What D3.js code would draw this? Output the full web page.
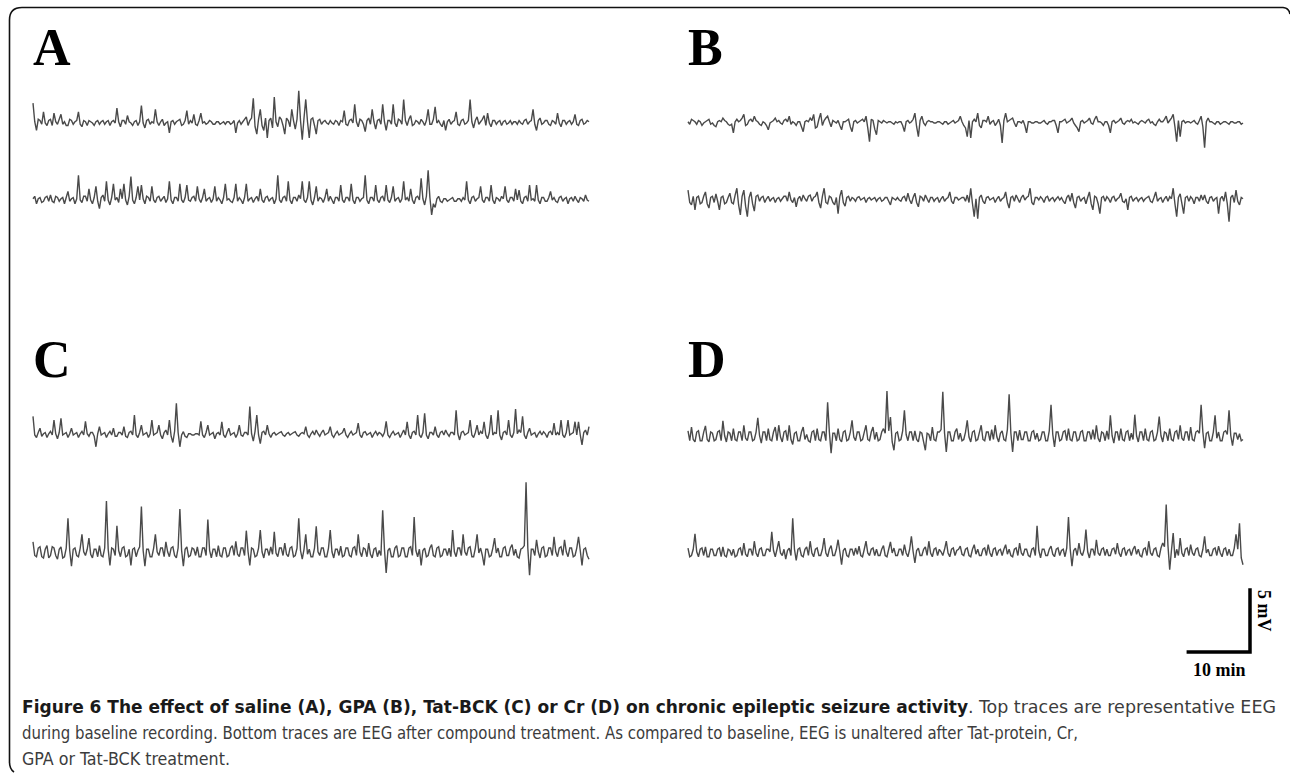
<!doctype html>
<html lang="en">
<head>
<meta charset="utf-8">
<title>Figure 6 EEG traces</title>
<script src="https://cdn.jsdelivr.net/npm/d3@7"></script>
<style>
  body { margin: 0; background: #fff; }
</style>
</head>
<body>
<script>
// EEG samples in mV, 319 samples spread over 90 min
var saline_base = [
  1.6, 0.1, -0.6, 0.3, 0.2, -0.1, 0.9, 0, -0.2, 0.2, 0.3, -0.2, 0.8, 0.1, -0.1, 0.3, 0.7, -0.1, 0.1, -0.2,
  -0.2, 0.3, 0.2, -0.1, 0.1, 0.2, 0.9, -0.1, -0.3, 0.2, 0.1, -0.2, 0.2, 0.1, 0, -0.2, 0.1, 0.2, -0.1, 0.1,
  0.2, -0.1, 0.1, 0.2, -0.2, 0.1, 0.2, 0, 1.2, 0.1, -0.3, 0.2, 0.2, -0.1, 0.6, 0.1, 0, -0.2, 0.1, 0.2,
  -0.2, 0.1, 1.4, 0, -0.4, 0.2, 0.3, -0.1, 0.1, 0, 1.1, 0.1, -0.2, 0.1, 0.3, -0.2, 0, 0.1, -0.8, 0.1,
  0.2, -0.1, 0.1, 0.2, 0.3, -0.2, -0.1, 0.2, 1.0, -0.1, 0.2, 0, 0.7, -0.1, -0.2, 0.2, 0.8, 0, 0.1, -0.1,
  0, 0.2, 0.1, -0.1, -0.1, 0.1, 0.1, -0.1, 0, 0.1, -0.1, 0.1, 0.1, -0.1, 0, 0.2, -0.8, 0, 0.2, -0.1,
  0.1, 0.3, 0.5, -0.2, 0.2, 0.4, 2.0, -0.3, -0.9, 0.3, 1.1, -0.2, -0.6, 0.4, -1.2, 0.2, 0.4, -0.4, 2.1, 0.1,
  -0.3, 0.5, 0.3, -0.2, -0.9, 0.4, 0.2, -0.3, 1.1, 0.2, -0.5, 0.3, 2.6, 0.2, -1.35, 0.4, 1.9, 0.1, -1.2, 0.3,
  0.4, -0.2, -0.9, 0.2, 0.3, -0.1, 0.1, 0.2, 0, -0.1, 0.2, 0, -0.1, 0.2, 0.1, -0.2, 0.2, 0.1, 1.0, -0.1,
  -0.2, 0.2, 0.3, 0, 1.5, 0.1, -0.3, 0.3, 0.2, -0.1, -0.7, 0.2, 0.4, -0.1, 1.1, 0.1, -0.5, 0.2, 0.3, -0.1,
  1.5, 0.1, -0.6, 0.2, 0.2, -0.1, 1.5, 0, -0.3, 0.3, 0.2, -0.1, 1.9, 0.2, -0.2, 0.3, 0.6, -0.2, -0.1, 0.2,
  0.1, -0.1, 0.3, 0.1, -0.2, 0.2, 1.1, -0.1, -0.1, 0.3, 1.3, 0, 0.2, -0.1, -0.3, 0.2, -0.6, 0.1, 0.3, -0.1,
  0.1, 0.2, 0.9, -0.1, -0.2, 0.2, 0.3, -0.1, 0, 0.2, 1.9, 0.1, -0.4, 0.2, 0.5, -0.1, 0.1, 0.3, 0.6, -0.2,
  0.8, 0, -0.3, 0.2, 0.2, -0.1, 0.1, 0.2, -0.2, 0.1, 0.2, -0.1, 0, 0.2, -0.1, 0.1, 0.1, -0.1, 0.2, 0,
  -0.1, 0.2, 0.3, -0.1, 0.1, 0.2, 1.1, -0.1, -0.6, 0.2, 0.4, -0.1, 0, 0.2, 0.2, -0.1, -0.2, 0.2, 0.1, -0.1,
  0.8, 0, -0.3, 0.2, 0.2, -0.1, 0.1, 0.2, -0.1, 0.1, 0.7, -0.1, -0.2, 0.2, 0.3, -0.1, 0, 0.2, 0.1
];
var saline_after = [
  0.1, 0.3, -0.3, 0.1, 0.2, -0.2, -0.1, 0.2, 0.3, -0.1, 0.4, -0.1, -0.2, 0.3, 0.2, -0.1, 0.1, 0.2, -0.3, 0.2,
  0.7, -0.1, 0.1, 0.2, -0.3, 0.1, 2.0, 0, -0.2, 0.3, 0.3, -0.1, 0.9, 0, -0.3, 0.2, 1.1, -0.1, -0.7, 0.2,
  0.4, -0.1, 1.5, 0, -0.4, 0.2, 1.3, 0, 0.2, -0.2, 0.9, 0.1, 1.3, 0, -0.4, 0.3, 1.9, 0, -0.3, 0.2,
  1.1, 0, 1.2, 0.1, -0.3, 0.3, 0.2, -0.1, 1.1, 0, -0.2, 0.2, 0.3, -0.1, 0.1, 0.3, -0.2, 0.1, 1.5, 0,
  -0.3, 0.2, 0.2, -0.1, 1.3, 0, -0.2, 0.2, 1.2, 0, -0.1, 0.2, 0.3, -0.1, 1.1, 0.1, -0.2, 0.2, 0.9, -0.1,
  0.1, 0.2, -0.2, 0.1, 1.1, -0.1, 0.2, 0, -0.3, 0.2, 1.3, 0, 0.1, -0.1, -0.2, 0.2, 1.3, -0.1, 0.2, 0,
  -0.3, 0.2, 1.3, -0.1, 0.1, 0.2, -0.2, 0.1, 0.3, -0.1, 0.9, 0, -0.2, 0.2, 0.3, -0.1, 0.1, 0.2, -0.3, 0.1,
  2.0, 0, -0.2, 0.2, 0.3, -0.1, 1.5, 0, -0.3, 0.2, 0.2, -0.1, 0.4, 0.1, 1.5, 0, -0.2, 0.2, 1.5, 0,
  -0.4, 0.2, 1.1, -0.1, 0.2, 0.1, -0.2, 0.2, 0.9, -0.1, 0.3, 0, -0.3, 0.2, 0.2, -0.1, 1.2, 0, -0.2, 0.2,
  0.2, -0.1, 1.3, 0, -0.3, 0.2, 0.2, -0.1, 0.1, 0.2, 2.0, 0, -0.3, 0.2, 0.2, -0.1, 1.2, 0, -0.2, 0.2,
  0.3, -0.1, 1.2, 0, -0.2, 0.2, 1.1, -0.1, 0.1, 0.2, -0.2, 0.1, 1.5, 0, 0.2, -0.1, 0.9, 0, -0.3, 0.2,
  0.3, 0, 1.75, 0.1, -0.4, 0.3, 2.4, 0.2, -1.2, -0.3, -0.6, 0.1, 0.3, -0.1, -0.2, 0.1, 0.1, -0.1, 0, 0.1,
  0.2, -0.1, -0.1, 0.1, 0.1, -0.1, 0.2, 0, 1.5, 0, -0.3, 0.2, 0.3, -0.1, 0.1, 0.2, 1.1, 0, -0.2, 0.2,
  0.2, -0.1, 1.2, 0, -0.3, 0.2, 0.1, -0.1, 0.3, 0.1, 1.1, 0, -0.2, 0.2, 0.2, -0.1, 0.9, 0, 0.8, -0.1,
  -0.3, 0.2, 0.3, -0.1, 1.2, 0, 0.1, -0.1, 1.2, 0, -0.3, 0.2, 0.2, -0.1, -0.1, 0.2, 0.7, 0, 0.2, -0.1,
  -0.2, 0.2, 0.3, -0.1, 0.1, 0.2, -0.3, 0.1, 0.2, -0.1, 0.3, 0, -0.2, 0.2, 0.1, -0.1, 0.4, 0, -0.1
];
var gpa_base = [
  0.1, -0.1, 0.3, 0.2, 0.1, -0.1, 0.2, 0.1, -0.2, 0, 0.1, 0.2, 0.3, -0.1, 0, -0.2, -0.3, 0.1, 0.2, 0.1,
  0.4, 0.2, 0.1, -0.1, -0.2, -0.1, -0.8, 0.1, 0.3, 0.1, 0.2, 0.4, 0.7, -0.2, -0.1, 0.2, 0.3, 0.1, 0.55, 0.2,
  0.1, -0.1, -0.2, 0.1, 0, -0.2, -0.55, 0, 0.1, 0.2, 0.4, 0.1, 0.2, 0, -0.1, 0.2, 0.3, 0.1, 0.55, -0.1,
  0.1, 0, -0.2, 0.1, 0.1, -0.3, -0.7, 0.1, 0.2, 0.1, 0.4, 0.2, 0.7, -0.4, -0.3, 0.3, 0.8, -0.2, 0.2, 0.4,
  0.55, 0.1, -0.3, 0.2, 0.1, 0, 0.2, -0.2, -0.55, 0.1, 0.1, 0.2, 0.3, -0.3, -0.7, 0.1, 0.2, 0, 0.1, 0.2,
  0.3, 0.1, 0.55, -0.4, -1.5, 0.3, 0.2, -0.5, -0.95, 0.2, 0.1, 0, 0.2, 0.1, 0, 0.1, 0.1, 0, -0.1, 0.1,
  0, 0.1, 0.1, -0.2, -0.7, 0.1, 0.2, 0, 0.1, 0.3, 0.8, -0.3, -1.1, 0.2, 0.55, 0, -0.2, 0.1, 0.2, 0.1,
  0.1, 0, 0, 0.1, 0.1, 0, -0.1, 0.1, 0.1, -0.1, 0, 0.1, 0.2, 0, 0.1, 0.2, 0.55, 0.1, -0.2, -0.4,
  -1.1, 0.2, -1.2, 0.1, 0.3, 0.1, 0.8, -0.2, -0.4, 0.2, 0.2, 0.1, 0.55, -0.1, 0.1, 0.2, -0.2, 0, 0.3, -0.2,
  -1.6, 0.2, 0.8, 0.1, 0.2, 0.3, 0.4, 0, -0.3, 0.1, 0.1, 0, 0.2, -0.2, -0.8, 0.1, 0.1, 0, 0, 0.1,
  0.1, 0, 0, 0.1, 0.2, 0, -0.1, 0.1, 0.1, 0.2, 0.2, -0.2, -0.8, 0.1, 0.1, 0.2, 0.3, 0, 0.1, 0.2,
  0.4, 0, -0.2, -0.4, -0.7, 0.1, 0.2, 0, 0.1, 0.2, 0.4, 0, -0.1, 0.3, 0.55, 0.1, 0.1, 0, -0.2, 0.1,
  0.1, -0.2, -0.8, 0.1, 0.2, 0, 0.1, 0.2, 0.4, 0, -0.1, 0.1, 0.2, 0.1, 0.3, 0, 0.1, 0, -0.1, 0.1,
  0.2, 0.1, 0, 0.2, 0.3, 0, 0.1, -0.1, -0.2, 0.1, 0.3, 0.1, 0.1, 0.3, 0.55, 0, 0.2, 0.4, 0.7, -0.3,
  -1.5, 0.2, -1.1, 0.1, 0.2, 0, 0.1, 0.1, 0, 0.1, 0.2, 0, -0.1, 0.2, 0.55, -0.3, -2.0, 0.1, 0.4, 0.1,
  0.1, 0, -0.1, 0.1, 0.1, -0.1, 0, 0.1, 0.1, 0, -0.1, 0.1, 0.1, 0, 0, 0.1, 0.1, -0.1, 0
];
var gpa_after = [
  0.8, -0.2, -0.4, 0.3, -0.8, 0.2, 0.3, -0.3, -0.2, 0.3, 0.65, -0.3, -0.65, 0.2, 0.3, -0.2, 0.5, -0.1, -0.8, 0.2,
  0.3, -0.3, -0.2, 0.2, 0.55, -0.2, -0.3, 0.4, 0.95, -0.4, -1.2, 0.3, 0.8, -0.5, -1.35, 0.2, 0.65, -0.3, -0.9, 0.3,
  0.4, -0.1, 0.2, 0.3, -0.2, 0.1, 0.3, -0.1, 0.1, 0.2, -0.2, 0.1, 0.2, -0.1, 0.1, 0.3, 0.3, -0.1, 0.65, 0,
  -0.2, 0.2, -0.55, 0.1, 0.3, -0.1, 0.4, 0.1, -0.1, 0.3, 0.4, -0.1, 0.2, 0.3, 0.65, -0.2, -0.65, 0.3, 0.95, -0.2,
  -0.3, 0.3, 0.2, -0.2, -0.4, 0.2, -1.1, 0.3, 0.8, -0.2, -0.5, 0.2, 0.3, -0.1, 0.2, 0.1, -0.1, 0.2, 0.27, 0,
  0.1, 0.2, -0.2, 0.1, 0.2, 0, 0.1, 0.2, -0.1, 0.1, 0.2, -0.1, 0, 0.2, 0.2, -0.1, -0.4, 0.2, 0.1, 0,
  0.2, 0, -0.1, 0.2, 0.3, -0.1, 0.55, 0, -0.3, 0.2, 0.55, -0.2, -0.55, 0.3, 0.2, -0.1, 0.4, 0.1, -0.2, 0.2,
  0.2, -0.1, 0.1, 0.2, -0.2, 0.1, 0.3, -0.1, 0.1, 0.2, 0.65, -0.1, -0.3, 0.2, 0.2, 0, 0.1, 0.2, 0.2, -0.1,
  0.4, -0.2, 0.95, -0.3, -1.35, 0.1, -1.5, 0.2, 0.4, -0.1, -0.3, 0.2, 0.27, 0, 0.1, 0.2, -0.2, 0.1, 0.3, -0.1,
  0.1, 0.2, 0.65, -0.2, -0.65, 0.2, 0.3, -0.1, 0.4, 0.1, -0.2, 0.2, 0.4, 0, 0.2, 0.3, 0.95, -0.2, -0.4, 0.2,
  0.2, 0, 0.27, 0.1, -0.2, 0.2, 0.3, -0.1, 0.1, 0.2, -0.1, 0.1, 0.27, 0, 0.2, -0.1, -0.3, 0.2, 0.4, -0.1,
  0.55, -0.2, -0.65, 0.2, 0.3, -0.1, 0.1, 0.2, -0.3, 0.2, 0.65, -0.3, -0.8, 0.3, 0.2, -0.3, -1.1, 0.2, 0.3, -0.1,
  0.27, 0.1, -0.2, 0.2, 0.3, -0.1, 0.1, 0.2, 0.55, -0.1, -0.2, 0.1, -0.8, 0.2, 0.3, -0.1, 0.1, 0.2, -0.1, 0.1,
  0.2, -0.1, 0.1, 0.2, 0.3, -0.1, -0.2, 0.2, 0.65, -0.1, 0.1, 0.2, -0.2, 0.1, 0.3, -0.1, 0.27, 0.1, 0.95, -0.3,
  -1.35, 0.2, 0.5, -0.3, -1.1, 0.2, 0.3, -0.1, 0.27, 0.1, -0.3, 0.2, 0.2, -0.1, 0.4, 0, 0.4, -0.1, -0.3, 0.2,
  0.27, -0.1, 0.1, 0.2, -1.1, 0.1, 0.3, -0.1, 0.65, -0.3, -1.75, 0.2, 0.4, -0.2, 0.8, -0.1, -0.4, 0.2, 0.1
];
var tatbck_base = [
  1.5, 0, -0.2, 0.2, 0.55, -0.1, 0.1, 0.2, -0.2, 0.1, 0.3, 0, 1.2, 0.1, -0.3, 0.2, 1.35, 0, 0.1, 0.2,
  -0.2, 0.1, 0.55, 0, 0.1, 0.2, -0.2, 0.1, 0.3, 0, 1.1, 0.1, -0.1, 0.2, 0.2, -0.1, -0.95, 0.1, 0.67, 0,
  0.1, 0.2, -0.2, 0.1, 0.3, 0, 0.55, -0.1, -0.1, 0.2, 0.2, 0, 0.67, -0.1, -0.2, 0.2, 0.3, 0, 1.6, 0,
  -0.2, 0.2, 0.8, 0, 0.1, 0.2, -0.2, 0.1, 1.2, 0, 0.1, 0.2, 0.8, 0, -0.3, 0.2, 0.4, 0, 1.2, -0.1,
  -0.6, 0.3, 2.55, 0.2, -0.95, 0, 0.27, -0.1, -0.2, 0.1, 0.1, 0, 0, 0.1, 0.1, 0, 1.1, 0, -0.2, 0.2,
  0.8, 0, 0.1, 0.2, -0.3, 0.1, 0.2, 0, 1.07, 0, -0.2, 0.2, 0.55, 0, 0.1, 0.2, -0.2, 0.1, 0.8, 0,
  -0.1, 0.2, 0.2, 0, 2.3, 0.1, -0.5, 0.3, 1.6, 0, -0.7, 0.2, 0.3, 0, 0.8, 0.1, -0.2, 0.1, 0.2, 0,
  0.1, 0.2, 0.27, 0, -0.1, 0.1, 0.2, 0, 0.1, 0.2, 0.27, 0, -0.1, 0.1, 0.2, 0.1, 0.67, 0, -0.2, 0.1,
  0.3, 0, 0.4, 0.1, -0.1, 0.2, 0.4, 0, 0.1, 0.2, 0.67, 0, -0.2, 0.1, 0.3, 0, 0.1, 0.2, 0.55, 0,
  -0.2, 0.1, 0.3, 0, 0.1, 0.2, 0.95, 0, -0.2, 0.2, 0.27, 0, 0.1, 0.2, -0.2, 0.1, 0.3, 0, 0.2, 0.1,
  -0.1, 0.2, 1.1, 0, -0.2, 0.1, 0.3, 0, 0.1, 0.2, -0.2, 0.1, 0.4, 0, 1.07, 0, -0.3, 0.2, 0.3, 0,
  1.6, 0, -0.2, 0.2, 1.75, 0, -0.3, 0.2, 0.2, 0, 0.67, 0, -0.2, 0.2, 0.3, 0, 0.4, 0.1, -0.1, 0.2,
  0.2, 0, 2.0, 0.1, -0.4, 0.2, 0.3, 0, 0.1, 0.2, 1.2, 0, -0.2, 0.2, 0.8, 0, 0.3, 0.1, 1.07, 0,
  -0.3, 0.2, 1.6, 0, 0.2, 0.1, 2.0, 0, -0.4, 0.2, 0.3, 0, 1.2, 0, -0.2, 0.2, 2.1, 0.1, 0.4, 0.2,
  1.5, 0, -0.3, 0.2, 0.55, 0, 0.1, 0.2, -0.2, 0.1, 0.3, 0, 0.27, 0.1, -0.2, 0.2, 0.3, 0, 0.95, 0,
  0.2, 0, 1.2, 0, -0.2, 0.2, 1.2, 0, 0.1, 0.2, 1.07, 0, 1.07, 0, -0.8, 0.2, 0.4, 0, 0.67
];
var tatbck_after = [
  0.9, -0.2, -0.3, 0.4, 0.5, -0.3, -0.4, 0.3, 0.6, -0.4, -0.2, 0.5, 0.4, -0.2, -0.5, 0.3, 0.5, -0.4, -0.3, 0.4,
  2.8, 0.2, -1.07, 0.3, 0.4, -0.2, -0.3, 0.4, 1.5, 0.1, -0.2, 0.3, 1.2, -0.1, -0.4, 0.3, 0.3, -0.3, 0.6, -0.2,
  -0.3, 0.4, 4.2, 0.3, -1.0, 0.4, 0.3, -0.2, 2.2, 0.2, -0.3, 0.4, 0.5, -0.3, -0.2, 0.3, -1.0, 0.3, 0.4, -0.3,
  0.2, 0.5, 3.75, 0.2, -1.07, 0.3, 0.3, -0.3, -0.3, 0.4, 1.5, 0.1, -0.2, 0.4, 0.4, -0.3, 0.9, 0.1, -0.3, 0.4,
  0.5, -0.2, -0.4, 0.4, 3.55, 0.2, -1.07, 0.3, 0.5, -0.3, -0.2, 0.4, 0.3, -0.2, 0.5, -0.3, -0.3, 0.4, 0.4, -0.2,
  2.7, 0.2, -0.4, 0.3, 0.3, -0.3, 0.6, -0.2, -0.3, 0.4, 0.4, -0.3, -0.2, 0.4, 0.6, -0.2, 0.95, -0.1, -0.3, 0.4,
  0.4, -0.2, 1.8, 0.1, -1.0, 0.4, 0.3, -0.3, -0.2, 0.4, 1.85, 0.1, -0.4, 0.3, 0.3, -0.2, 0.5, -0.1, 1.7, 0,
  -0.3, 0.4, 0.4, -0.2, 0.8, -0.1, -0.3, 0.4, 0.5, -0.3, -0.2, 0.4, 2.8, 0.2, -0.5, 0.3, 1.5, -0.1, 0.3, -0.3,
  -0.3, 0.4, 2.15, 0.1, -0.2, 0.4, 0.4, -0.3, -0.3, 0.4, 1.85, 0.1, -0.4, 0.3, 0.3, -0.2, 0.55, -0.3, -0.2, 0.4,
  0.4, -0.2, -0.3, 0.4, 0.5, -0.2, 1.5, 0.1, -0.3, 0.4, 0.3, -0.3, 0.8, -0.1, -0.4, 0.3, 0.4, -0.3, 0.2, -0.2,
  3.45, 0.3, -1.6, 0.2, 0.4, -0.3, -0.3, 0.4, 0.6, -0.3, -0.2, 0.4, 0.4, -0.3, -0.3, 0.4, 0.5, -0.2, 2.9, 0.2,
  -0.3, 0.3, -1.0, 0.2, 0.4, -0.3, -0.2, 0.4, 0.67, -0.2, -0.3, 0.4, 0.5, -0.3, -0.2, 0.3, 0.3, -0.2, 0.4, -0.3,
  1.85, 0.1, -0.3, 0.4, 0.4, -0.2, 1.5, 0.1, -0.2, 0.4, 0.5, -0.3, -0.3, 0.4, 1.5, 0, 0.4, -0.2, -1.0, 0.3,
  0.3, -0.3, -0.2, 0.4, 1.2, 0, 0.4, -0.3, -0.3, 0.4, 0.5, -0.2, -0.2, 0.4, 0.67, -0.2, 0.3, -0.3, -0.4, 0.3,
  0.4, 0.6, 5.7, 0.4, -1.8, 0.3, 0.3, -0.2, 1.07, 0.1, -0.4, 0.4, 0.5, -0.3, -0.2, 0.4, 0.4, -0.2, 1.3, 0.1,
  -0.3, 0.4, 0.5, -0.2, 1.07, 0.1, -0.3, 0.4, 0.4, -0.3, -0.2, 0.4, 1.3, 0.2, -1.0, 0.3, 0.4, -0.2, -0.5
];
var cr_base = [
  0.5, -0.3, 0.8, -0.2, -0.4, 0.4, 0.5, -0.3, -0.3, 0.4, 0.9, -0.2, -0.4, 0.4, 0.3, -0.3, -0.2, 0.4, 0.5, -0.3,
  1.3, 0.1, -0.4, 0.4, 0.3, -0.3, 0.67, -0.2, -0.3, 0.4, 0.4, -0.3, 0.95, -0.1, -0.3, 0.4, 0.4, -0.3, -0.2, 0.4,
  1.55, 0.1, -0.5, 0.4, 0.4, -0.3, 0.67, -0.2, -0.3, 0.4, 0.8, -0.3, 0.95, 0, -0.4, 0.4, 0.5, -0.3, 0.95, -0.2,
  -0.6, 0.3, 0.4, -0.3, -0.3, 0.4, 0.8, -0.2, 0.2, -0.3, -0.4, 0.4, 0.5, -0.3, 0.67, -0.2, -0.3, 0.4, 0.4, -0.3,
  2.8, 0.4, -1.3, 0.3, 0.3, -0.3, 0.67, -0.2, -0.4, 0.4, 0.5, -0.3, -0.2, 0.4, 1.35, 0, -0.3, 0.4, 0.4, -0.3,
  -0.2, 0.4, 0.95, -0.2, -0.3, 0.4, 0.8, -0.2, 0.4, -0.3, -0.2, 0.4, 0.67, 0.3, 3.7, 0.5, 1.6, -0.4, -1.07, 0.3,
  0.4, -0.3, -0.2, 0.5, 2.15, 0.2, -0.3, 0.4, 0.4, -0.3, 0.5, -0.2, -0.4, 0.4, 0.3, -0.4, -1.07, 0.3, 0.2, -0.3,
  0.8, -0.2, -0.3, 0.4, 0.4, 0.6, 3.65, 0.3, -1.2, 0.4, 0.4, -0.3, -0.3, 0.4, 0.67, -0.2, 0.3, -0.3, -0.2, 0.4,
  1.35, 0, -0.4, 0.4, 0.5, -0.3, -0.2, 0.4, 0.95, -0.2, -0.3, 0.4, 0.4, -0.3, 0.6, -0.2, 0.95, 0, -0.4, 0.3,
  0.5, -0.2, -0.3, 0.6, 3.45, 0.3, -1.2, 0.4, 0.4, -0.3, 0.55, -0.2, -0.2, 0.4, 0.4, -0.3, -0.3, 0.4, 0.5, -0.2,
  0.3, -0.3, -0.2, 0.4, 0.4, -0.3, -0.3, 0.5, 2.6, 0.2, -0.8, 0.4, 0.4, -0.3, -0.2, 0.4, 0.5, -0.3, 0.67, -0.2,
  -0.3, 0.4, 0.4, -0.3, -0.2, 0.4, 0.5, -0.3, -0.3, 0.4, 0.4, -0.2, 0.6, -0.2, 0.95, -0.1, -0.4, 0.4, 0.3, -0.3,
  0.5, -0.2, 1.75, 0.1, -0.5, 0.4, 0.4, -0.3, 0.67, -0.2, -0.3, 0.4, 0.5, -0.3, 0.3, -0.2, 1.8, 0.1, -0.4, 0.4,
  0.4, -0.3, 0.67, -0.2, -0.3, 0.4, 0.5, -0.3, -0.2, 0.4, 1.65, 0.1, -0.4, 0.4, 0.3, -0.3, 0.67, -0.2, -0.3, 0.4,
  0.5, -0.2, 0.95, -0.1, -0.3, 0.4, 0.4, -0.3, 0.8, -0.2, -0.3, 0.4, 0.5, 0.3, 2.6, 0.4, -0.9, 0.3, 0.4, -0.3,
  -0.3, 0.4, 1.75, -0.1, 0.4, -0.3, -0.3, 0.4, 0.5, 0.2, 2.15, 0.1, -0.7, 0.3, 0.3, -0.2, 0.27, -0.3, -0.2
];
var cr_after = [
  0.4, -0.3, -0.2, 0.3, 1.55, 0.1, -0.3, 0.3, 0.4, -0.2, 0.5, -0.3, -0.3, 0.3, 0.3, -0.2, -0.2, 0.3, 0.4, -0.3,
  0.5, -0.2, -0.3, 0.3, 0.2, -0.2, 0.3, -0.3, -0.2, 0.3, 0.4, -0.2, 0.8, -0.1, -0.3, 0.3, 0.3, -0.2, 0.95, 0,
  -0.3, 0.3, 0.4, -0.2, -0.2, 0.3, 0.3, 0.1, 1.7, 0.2, -0.3, 0.3, 0.95, 0, -0.2, 0.3, -0.5, 0.2, 0.4, -0.2,
  2.8, 0.3, -0.6, 0.3, 0.4, -0.2, -0.3, 0.3, 0.5, -0.2, 0.95, 0, -0.3, 0.3, 0.4, -0.2, -0.2, 0.3, 1.2, 0,
  -0.3, 0.3, 0.6, -0.2, -0.2, 0.3, 1.07, 0.1, -0.95, 0.2, 0.4, -0.2, -0.3, 0.3, 0.3, -0.2, 0.4, -0.1, 0.55, -0.2,
  -0.3, 0.3, 0.95, 0, -0.2, 0.3, 0.4, -0.2, 0.3, -0.2, -0.2, 0.3, 0.6, -0.2, -0.3, 0.3, 0.9, 0, 0.4, -0.2,
  -0.2, 0.3, 0.3, -0.2, 0.67, 0, -0.3, 0.3, 1.35, 0.1, -0.8, 0.2, 0.4, -0.2, -0.2, 0.3, 0.5, -0.2, 0.95, 0,
  -0.3, 0.3, 0.4, -0.2, 0.3, 0.1, -0.2, 0.3, 0.95, 0, -0.3, 0.3, 0.4, -0.2, 0.2, 0.3, 0.55, -0.1, -0.2, 0.3,
  0.4, -0.2, -0.3, 0.3, 0.67, -0.1, 0.3, -0.2, -0.2, 0.3, 0.4, -0.2, 0.67, 0, -0.3, 0.3, 0.4, -0.2, 0.2, 0.3,
  -0.2, 0.3, 0.67, -0.1, 0.3, -0.2, -0.3, 0.3, 0.4, -0.2, 0.8, 0, -0.2, 0.3, 0.3, -0.2, -0.3, 0.3, 0.4, -0.2,
  2.2, 0.2, -0.4, 0.3, 0.3, -0.2, -0.2, 0.3, 0.55, -0.1, -0.3, 0.3, 0.4, -0.2, 0.2, 0.3, -0.3, 0.4, 2.9, 0.3,
  -1.07, 0.2, 0.4, -0.2, 0.8, 0, -0.2, 0.3, 1.9, 0.1, -0.4, 0.3, 0.3, -0.2, 1.07, 0, -0.2, 0.3, 0.4, -0.2,
  0.3, -0.2, -0.2, 0.3, 0.4, -0.1, 0.8, 0, -0.3, 0.3, 0.4, -0.2, 0.2, 0.3, -0.2, 0.3, 0.55, -0.1, 0.3, -0.2,
  -0.3, 0.3, 0.4, -0.2, 0.95, 0, -0.2, 0.3, 0.4, -0.2, -0.3, 0.4, 0.8, 0.5, 3.9, 0.6, -1.35, 0.2, 1.6, -0.4,
  0.3, -0.2, 1.2, 0, -0.3, 0.3, 0.4, -0.2, 0.67, 0, -0.2, 0.3, 0.4, -0.2, -0.3, 0.3, 1.35, 0, 0.3, -0.2,
  -0.2, 0.3, 0.4, -0.2, 0.55, 0, -0.3, 0.3, 0.4, -0.2, 0.3, -0.2, -0.2, 0.4, 1.5, 0.3, 2.4, -0.4, -0.95
];

var panelLetters = ["A", "B", "C", "D"];
var traces = [
  [saline_base, saline_after],
  [gpa_base, gpa_after],
  [tatbck_base, tatbck_after],
  [cr_base, cr_after]
];
var duration = 90;       // minutes shown in each trace
var barMinutes = 10, barMillivolts = 5;

// layout of the four panels
var layout = [
  { x0: 33,  x1: 589,  label: 65,  top: 123, bottom: 200 },
  { x0: 688, x1: 1243, label: 65,  top: 123, bottom: 200 },
  { x0: 33,  x1: 589,  label: 377, top: 435, bottom: 553 },
  { x0: 688, x1: 1243, label: 377, top: 437, bottom: 553 }
];
var pxPerMv = 12.4;
var serif = "'Liberation Serif', 'Times New Roman', serif";

var svg = d3.select("body").append("svg")
  .attr("width", 1290)
  .attr("height", 773);

// outer frame with rounded corners
svg.append("path")
  .attr("d", "M1290,14 Q1289,8 1283,7.5 L22,7.5 Q9.5,7.5 9.5,20 L9.5,762 Q9.5,769 14,772")
  .attr("fill", "none")
  .attr("stroke", "#111")
  .attr("stroke-width", 1.6);

panelLetters.forEach(function(letter, p) {
  var L = layout[p];
  var x = d3.scaleLinear().domain([0, duration]).range([L.x0, L.x1]);

  svg.append("text")
    .attr("x", L.x0)
    .attr("y", L.label)
    .attr("font-family", serif)
    .attr("font-weight", "bold")
    .attr("font-size", "52px")
    .attr("fill", "#000")
    .text(letter);

  [L.top, L.bottom].forEach(function(base, k) {
    var values = traces[p][k];
    var y = d3.scaleLinear().domain([-5, 5]).range([base + 5 * pxPerMv, base - 5 * pxPerMv]);
    var line = d3.line()
      .x(function(d, i) { return x(i * duration / (values.length - 1)); })
      .y(function(d) { return y(d); });
    svg.append("path")
      .datum(values)
      .attr("d", line)
      .attr("fill", "none")
      .attr("stroke", "#4a4a4a")
      .attr("stroke-width", 1.4)
      .attr("stroke-linejoin", "miter")
      .attr("stroke-miterlimit", 2);
  });
});

// calibration bar, drawn with the same scales as the right-hand traces
var xr = d3.scaleLinear().domain([0, duration]).range([layout[3].x0, layout[3].x1]);
var barLen = xr(barMinutes) - xr(0);
var barH = barMillivolts * pxPerMv;
var cx = 1250, cy = 652;
svg.append("path")
  .attr("d", "M" + (cx - barLen) + "," + cy + " L" + cx + "," + cy + " L" + cx + "," + (cy - barH))
  .attr("fill", "none")
  .attr("stroke", "#000")
  .attr("stroke-width", 3.5)
  .attr("stroke-linecap", "square");

svg.append("text")
  .attr("transform", "translate(" + (cx + 8) + "," + (cy - barH) + ") rotate(90)")
  .attr("font-family", serif)
  .attr("font-weight", "bold")
  .attr("font-size", "18px")
  .text(barMillivolts + " mV");

svg.append("text")
  .attr("x", cx - barLen / 2)
  .attr("y", cy + 24)
  .attr("text-anchor", "middle")
  .attr("font-family", serif)
  .attr("font-weight", "bold")
  .attr("font-size", "18px")
  .text(barMinutes + " min");

// caption
var capFont = "'Liberation Sans Narrow', 'DejaVu Sans Condensed', 'Open Sans', sans-serif";
var caption = [
  { text: "Figure 6 The effect of saline (A), GPA (B), Tat-BCK (C) or Cr (D) on chronic epileptic seizure activity", x: 22, w: 946, y: 713, bold: true },
  { text: ". Top traces are representative EEG", x: 968, w: 308, y: 713, bold: false },
  { text: "during baseline recording. Bottom traces are EEG after compound treatment. As compared to baseline, EEG is unaltered after Tat-protein, Cr,", x: 22, w: 1056, y: 739, bold: false },
  { text: "GPA or Tat-BCK treatment.", x: 22, w: 208, y: 765, bold: false }
];
svg.selectAll("text.caption")
  .data(caption)
  .enter()
  .append("text")
  .attr("class", "caption")
  .attr("x", function(d) { return d.x; })
  .attr("y", function(d) { return d.y; })
  .attr("textLength", function(d) { return d.w; })
  .attr("lengthAdjust", "spacingAndGlyphs")
  .attr("font-family", capFont)
  .attr("font-size", "17px")
  .attr("font-weight", function(d) { return d.bold ? "bold" : "normal"; })
  .attr("fill", function(d) { return d.bold ? "#1a1a1a" : "#3c3c3c"; })
  .text(function(d) { return d.text; });
</script>
</body>
</html>
